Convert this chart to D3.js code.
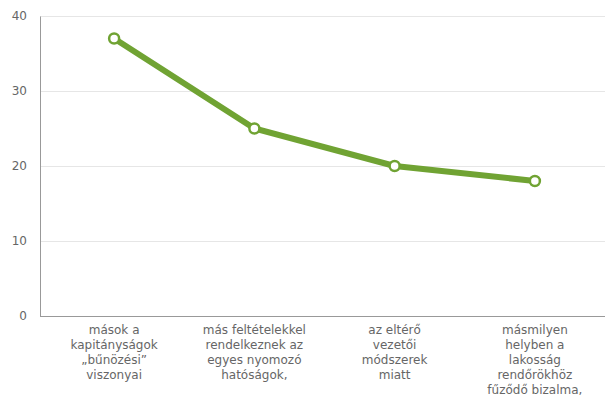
<!DOCTYPE html>
<html lang="hu">
<head>
<meta charset="UTF-8" />
<script src="https://d3js.org/d3.v7.min.js"></script>
<style>
    body { margin: 0; background: #fff; }
    svg { display: block; }
    .tick text, .cat { font-family: "DejaVu Sans", Verdana, sans-serif; font-size: 12px; fill: #666; }
    .grid line { stroke: #e6e6e6; }
</style>
</head>
<body>
<svg width="607" height="407"></svg>
<script>
    // chart data
    const categories = [
        ["mások a", "kapitányságok", "„bűnözési”", "viszonyai"],
        ["más feltételekkel", "rendelkeznek az", "egyes nyomozó", "hatóságok,"],
        ["az eltérő", "vezetői", "módszerek", "miatt"],
        ["másmilyen", "helyben a", "lakosság", "rendőrökhöz", "fűződő bizalma,"]
    ];
    const values = [37, 25, 20, 18];
    const yTicks = [0, 10, 20, 30, 40];

    const svg = d3.select("svg");
    const plotLeft = 40, plotRight = 605, plotTop = 16, plotBottom = 316;

    const x = d3.scaleBand().domain(d3.range(values.length)).range([plotLeft + 4, plotRight]);
    const y = d3.scaleLinear().domain([0, 40]).range([plotBottom, plotTop]);

    // gridlines
    svg.append("g").attr("class", "grid")
        .selectAll("line").data(yTicks.slice(1)).join("line")
        .attr("x1", plotLeft).attr("x2", plotRight)
        .attr("y1", d => y(d) + 0.5).attr("y2", d => y(d) + 0.5);

    // y axis
    const yAxis = svg.append("g").attr("transform", `translate(${plotLeft},0)`)
        .call(d3.axisLeft(y).tickValues(yTicks).tickSize(0).tickPadding(13));
    yAxis.select(".domain").attr("stroke", "#999");

    // bottom axis line
    svg.append("line")
        .attr("x1", plotLeft).attr("x2", plotRight)
        .attr("y1", plotBottom + 0.5).attr("y2", plotBottom + 0.5)
        .attr("stroke", "#999");

    // category labels
    const cx = i => x(i) + x.bandwidth() / 2;
    const cat = svg.append("g").selectAll("text").data(categories).join("text")
        .attr("class", "cat")
        .attr("text-anchor", "middle")
        .attr("x", (d, i) => cx(i))
        .attr("y", plotBottom + 18);
    cat.selectAll("tspan").data(d => d).join("tspan")
        .attr("x", function () { return d3.select(this.parentNode).attr("x"); })
        .attr("dy", (d, i) => i === 0 ? 0 : 15)
        .text(d => d);

    // line
    const line = d3.line()
        .x((d, i) => cx(i))
        .y(d => y(d));

    svg.append("path").datum(values)
        .attr("d", line)
        .attr("fill", "none")
        .attr("stroke", "#70a333")
        .attr("stroke-width", 6)
        .attr("stroke-linejoin", "round");

    svg.append("g").selectAll("circle").data(values).join("circle")
        .attr("cx", (d, i) => cx(i))
        .attr("cy", d => y(d))
        .attr("r", 5)
        .attr("fill", "#fff")
        .attr("stroke", "#70a333")
        .attr("stroke-width", 2.5);
</script>
</body>
</html>
